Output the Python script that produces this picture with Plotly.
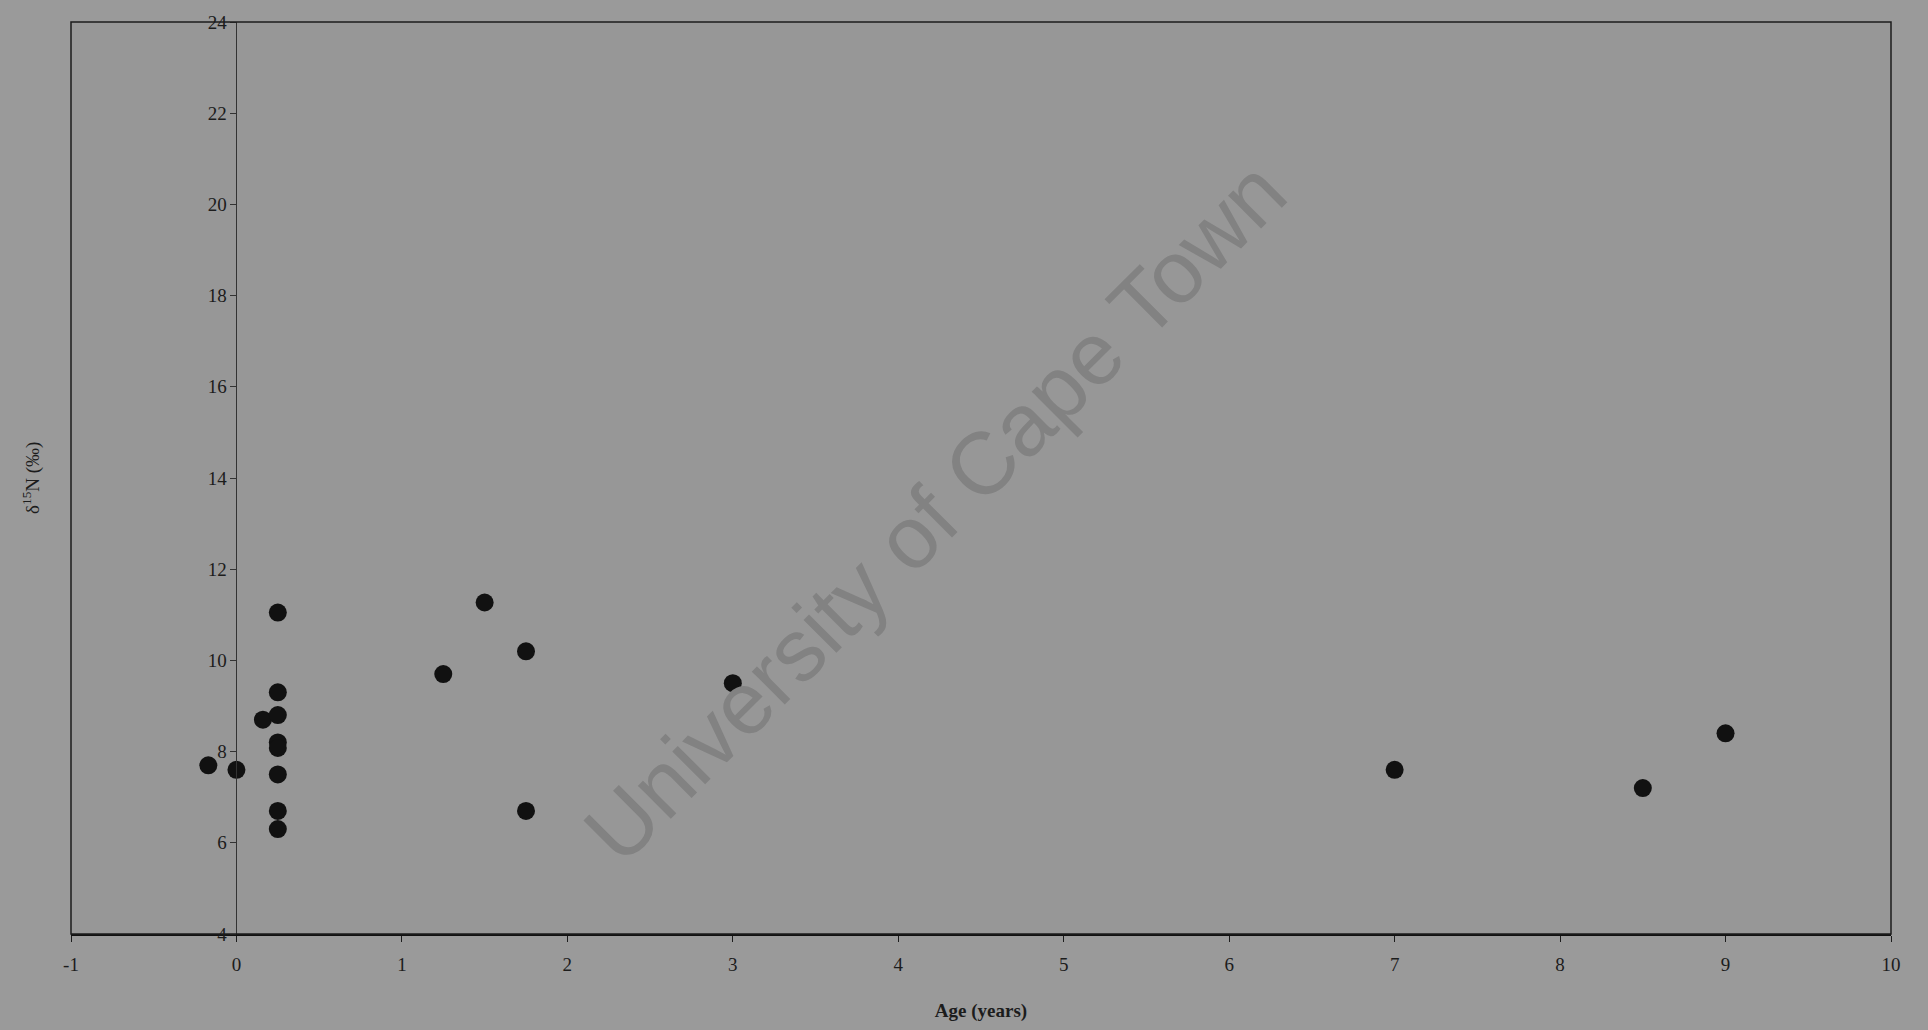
import plotly.graph_objects as go

# Age (years) vs delta 15N (per mil)
age = [-0.17, 0.0, 0.16, 0.25, 0.25, 0.25, 0.25, 0.25, 0.25, 0.25, 0.25,
       1.25, 1.5, 1.75, 1.75, 3.0, 7.0, 8.5, 9.0]
d15n = [7.7, 7.6, 8.7, 11.05, 9.3, 8.8, 8.2, 8.08, 7.5, 6.7, 6.3,
        9.7, 11.27, 10.2, 6.7, 9.5, 7.6, 7.2, 8.4]

x_ticks = list(range(-1, 11))
x_labels = [str(v) for v in x_ticks]  # plain hyphen for -1, as in the scan
y_ticks = list(range(4, 25, 2))

serif = "Liberation Serif, Times New Roman, serif"
ink = "#1c1c1c"

fig = go.Figure()

fig.add_trace(
    go.Scatter(
        x=age,
        y=d15n,
        mode="markers",
        marker=dict(color="#111111", size=18, line=dict(width=0)),
        showlegend=False,
        hoverinfo="x+y",
    )
)

# box round the plot area
fig.add_shape(
    type="rect", xref="x domain", yref="y domain",
    x0=0, x1=1, y0=0, y1=1,
    line=dict(color=ink, width=1.5), layer="above",
)

# watermark
fig.add_annotation(
    text="University of Cape Town",
    x=4.22, y=13.27, xref="x", yref="y",
    textangle=-45, showarrow=False,
    font=dict(family="Liberation Sans, Arial, sans-serif", size=88, color="#828282"),
)

# y title sits at the far left, away from the axis at x=0
fig.add_annotation(
    text="δ<sup>15</sup>N (‰)",
    xref="paper", yref="paper", x=-0.022, y=0.5,
    xanchor="center", yanchor="middle",
    textangle=-90, showarrow=False,
    font=dict(family=serif, size=19, color=ink),
)

fig.update_layout(
    width=1928,
    height=1030,
    paper_bgcolor="#9a9a9a",
    plot_bgcolor="#979797",
    margin=dict(l=71, r=37, t=20, b=96),
    showlegend=False,
    font=dict(family=serif, size=19, color=ink),
    xaxis=dict(
        range=[-1, 10],
        tickvals=x_ticks,
        ticktext=x_labels,
        ticks="outside", ticklen=6, tickwidth=1, tickcolor=ink,
        ticklabelstandoff=6,
        showgrid=False, zeroline=False,
        showline=True, linecolor="#111111", linewidth=2,
        title=dict(text="<b>Age (years)</b>", standoff=30,
                   font=dict(family=serif, size=19, color=ink)),
        tickfont=dict(family=serif, size=19, color=ink),
    ),
    yaxis=dict(
        range=[4, 24],
        tickvals=y_ticks,
        anchor="free", position=1 / 11,
        ticks="outside", ticklen=6, tickwidth=1, tickcolor="#333333",
        showgrid=False, zeroline=False,
        showline=True, linecolor="#333333", linewidth=1,
        tickfont=dict(family=serif, size=19, color=ink),
    ),
)

fig.write_html(
    "out.html",
    config={"displayModeBar": False},
    post_script="document.body.style.margin='0';document.body.style.background='#9a9a9a';",
)
